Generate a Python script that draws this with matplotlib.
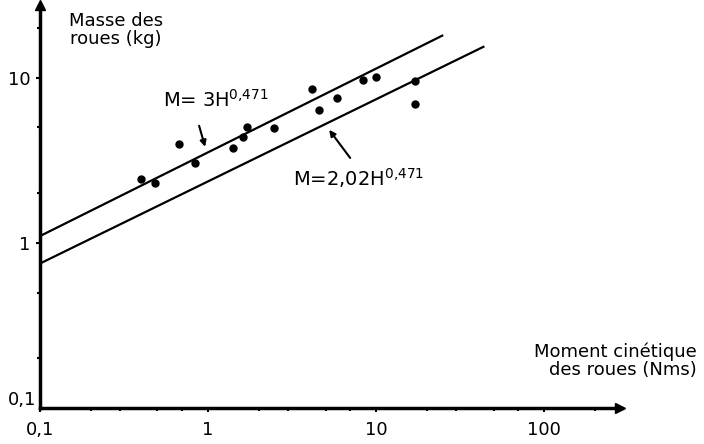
import numpy as np
import matplotlib
matplotlib.use('Agg')
import matplotlib.pyplot as plt
from matplotlib.ticker import FixedLocator, LogLocator, NullFormatter

plt.rcParams['font.family'] = ['DejaVu Sans']
plt.rcParams['mathtext.fontset'] = 'dejavusans'

# données (échelles log-log)
H_points = [0.40, 0.48, 0.67, 0.83, 1.41, 1.62, 1.71, 2.47, 4.16, 4.58, 5.86, 8.37, 10.0, 17.1, 17.1]
M_points = [2.44, 2.31, 3.98, 3.05, 3.77, 4.39, 5.05, 4.98, 8.58, 6.40, 7.57, 9.73, 10.1, 9.59, 6.96]

# droites M = 3H^0,471 et M = 2,02H^0,471 (extrémités lues)
upper_H = [0.1, 24.7]
upper_M = [1.10, 18.0]
lower_H = [0.1, 43.4]
lower_M = [0.75, 15.4]

x_ticks = [0.1, 1, 10, 100]
x_ticklabels = ['0,1', '1', '10', '100']
y_ticks = [1, 10]
y_ticklabels = ['1', '10']

W, Hpx = 704, 444
fig = plt.figure(figsize=(W / 100, Hpx / 100), dpi=100)
ax = fig.add_axes([40 / W, 1 - 408 / Hpx, (620 - 40) / W, (408 - 5) / Hpx])
ax.set_xscale('log')
ax.set_yscale('log')
ax.set_xlim(0.1, 282)
ax.set_ylim(0.1, 27.6)

ax.plot(upper_H, upper_M, color='k', lw=1.6)
ax.plot(lower_H, lower_M, color='k', lw=1.6)
ax.plot(H_points, M_points, 'o', color='k', ms=5, clip_on=False)

# axes
for s in ['top', 'right']:
    ax.spines[s].set_visible(False)
for s in ['left', 'bottom']:
    ax.spines[s].set_linewidth(2.5)
ax.plot(1, 0, '>', color='k', ms=7, transform=ax.transAxes, clip_on=False)
ax.plot(0, 1, '^', color='k', ms=7, transform=ax.transAxes, clip_on=False)

ax.xaxis.set_major_locator(FixedLocator(x_ticks))
ax.set_xticklabels(x_ticklabels)
ax.yaxis.set_major_locator(FixedLocator(y_ticks))
ax.set_yticklabels(y_ticklabels)
ax.xaxis.set_minor_locator(LogLocator(base=10, subs=(2, 3, 5, 7)))
ax.yaxis.set_minor_locator(LogLocator(base=10, subs=(2, 5)))
ax.xaxis.set_minor_formatter(NullFormatter())
ax.yaxis.set_minor_formatter(NullFormatter())
ax.tick_params(which='major', length=3, width=1.5, labelsize=13, pad=4)
ax.tick_params(which='minor', length=2, width=1.5)
ax.tick_params(axis='x', which='major', pad=6)

# "0,1" à l'origine de l'axe vertical
fig.text(8 / W, 1 - 400 / Hpx, '0,1', fontsize=13, va='center', ha='left')

# titres des axes
fig.text(116 / W, 1 - 12 / Hpx, 'Masse des\nroues (kg)', fontsize=13,
         ha='center', va='top', linespacing=1.0)
fig.text(697 / W, 1 - 342 / Hpx, 'Moment cinétique\ndes roues (Nms)', fontsize=13,
         ha='right', va='top', multialignment='right', linespacing=1.0)

# légendes des droites
fig.text(163 / W, 1 - 107 / Hpx, r'M= 3H$^{0{,}471}$', fontsize=14, va='baseline')
fig.text(293 / W, 1 - 186 / Hpx, r'M=2,02H$^{0{,}471}$', fontsize=14, va='baseline')

arrow = dict(arrowstyle='-|>', lw=1.5, color='k', mutation_scale=9, shrinkA=0, shrinkB=0)
ax.annotate('', xy=(0.96, 3.82), xytext=(0.884, 5.12), arrowprops=arrow)
ax.annotate('', xy=(5.25, 4.84), xytext=(7.0, 3.27), arrowprops=arrow)

plt.savefig('out.png', dpi=100)
